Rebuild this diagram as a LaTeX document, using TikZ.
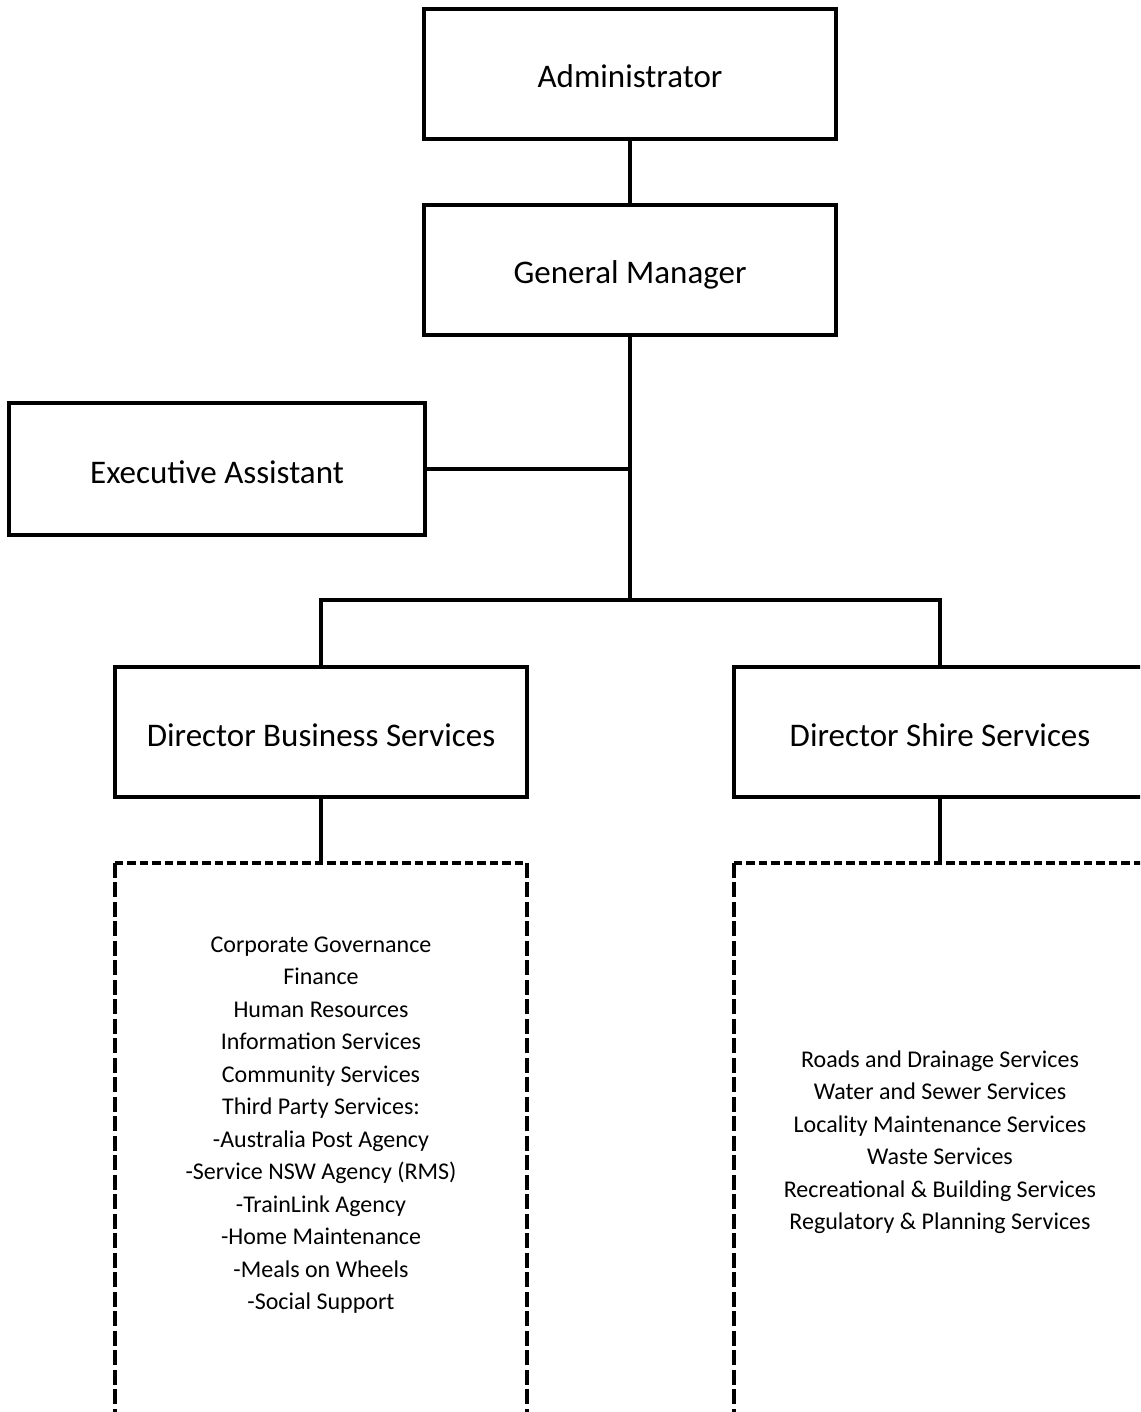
\documentclass[tikz,border=0pt]{standalone}
\usepackage{fontspec}
\setmainfont{Carlito}
\begin{document}
\begin{tikzpicture}[x=1pt,y=-1pt,
  box/.style={draw,line width=3.8pt,minimum width=412pt,minimum height=130pt,inner sep=0pt,
    text height=28pt,text depth=0pt,font=\fontsize{33}{40}\selectfont},
  conn/.style={line width=3.8pt},
  dbox/.style={minimum width=412pt,minimum height=600pt,inner sep=0pt},
  hdash/.style={line width=3.8pt,dash pattern=on 8.5pt off 4pt},
  vdash/.style={line width=3.8pt,dash pattern=on 15pt off 4.5pt},
  list/.style={align=center,font=\fontsize{24}{32.5}\selectfont}]
\useasboundingbox (0,0) rectangle (1140,1412);
\fill[white] (0,0) rectangle (1140,1412);
\clip (0,0) rectangle (1140,1412);
\node[box] (adm) at (630,74) {Administrator};
\node[box] (gm) at (630,270) {General Manager};
\node[box,minimum width=416pt,minimum height=132pt] (ea) at (217,469) {Executive Assistant};
\node[box] (dbs) at (321,732) {Director Business Services};
\node[box] (dss) at (940,732) {Director Shire Services};
\coordinate (j) at (630,600);
\draw[conn] (adm) -- (gm);
\draw[conn] (gm.south) -- (j);
\draw[conn] (ea.east) -- (ea.east -| gm.south);
\draw[conn,line join=miter] (dbs.north) |- (j) -| (dss.north);
\node[dbox] (bsl) at (321,1163) {};
\node[dbox] (ssl) at (940,1163) {};
\foreach \b in {bsl,ssl}{
  \draw[hdash] (\b.north west) -- (\b.north east);
  \draw[vdash] (\b.north west) -- (\b.south west);
  \draw[vdash] (\b.north east) -- (\b.south east);
}
\draw[conn] (dbs.south) -- (bsl.north);
\draw[conn] (dss.south) -- (ssl.north);
\node[list] (bst) at (321,1125) {Corporate Governance\\Finance\\Human Resources\\Information Services\\Community Services\\Third Party Services:\\-Australia Post Agency\\-Service NSW Agency (RMS)\\-TrainLink Agency\\-Home Maintenance\\-Meals on Wheels\\-Social Support};
\node[list] (sst) at (940,1142) {Roads and Drainage Services\\Water and Sewer Services\\Locality Maintenance Services\\Waste Services\\Recreational \& Building Services\\Regulatory \& Planning Services};
\end{tikzpicture}
\end{document}
